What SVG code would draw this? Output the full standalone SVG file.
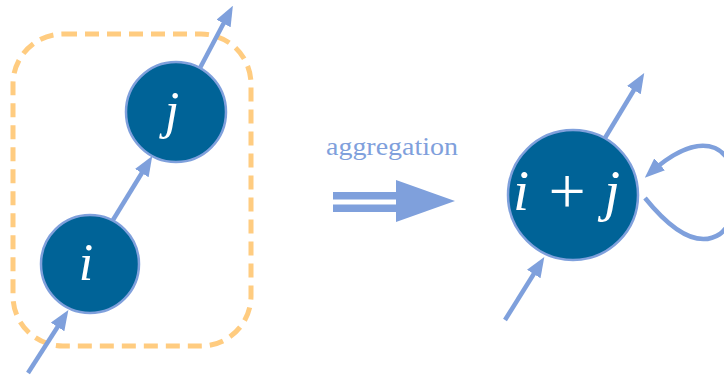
<svg xmlns="http://www.w3.org/2000/svg" width="724" height="377" viewBox="0 0 724 377">
<style>
.edge{fill:none;stroke:#7FA0DC;stroke-width:4.5;marker-end:url(#ah)}
.node{fill:#006397;stroke:#7FA0DC;stroke-width:2.5}
.lbl{fill:#ffffff;font-family:"Liberation Serif","DejaVu Serif",serif;text-anchor:middle}
.it{font-style:italic}
</style>
<defs>
<marker id="ah" markerUnits="userSpaceOnUse" viewBox="0 0 20 16" markerWidth="20" markerHeight="16" refX="13" refY="8" orient="auto">
<path d="M0,0 L20,8 L0,16 z" fill="#7FA0DC"/>
</marker>
</defs>
<rect id="group" x="13" y="34" width="238" height="312" rx="50" fill="none" stroke="#FFCC80" stroke-width="5" stroke-dasharray="14 8"/>
<g id="connectors">
<path class="edge" d="M28,373 L64.6,316"/>
<path class="edge" d="M113,220 L148.6,162"/>
<path class="edge" d="M200,68 L229.6,12"/>
<path class="edge" d="M505,320 L540.6,263"/>
<path class="edge" d="M605,138 L640.6,79"/>
<path class="edge" d="M645,198 C 675,235 700,247 720,234 C 745,214 742,160 715,148 C 695,140 670,155 650,173"/>
</g>
<g id="node-i">
<circle class="node" cx="90" cy="264" r="49"/>
<text class="lbl it" x="86" y="280" font-size="52">i</text>
</g>
<g id="node-j">
<circle class="node" cx="176" cy="112" r="50"/>
<text class="lbl it" x="172" y="128" font-size="52">j</text>
</g>
<g id="aggregation">
<text x="392" y="155" font-size="25" fill="#7FA0DC" font-family="'Liberation Serif','DejaVu Serif',serif" text-anchor="middle" textLength="132" lengthAdjust="spacingAndGlyphs">aggregation</text>
<rect x="333" y="192" width="66" height="7.5" fill="#7FA0DC"/>
<rect x="333" y="204.5" width="66" height="7.5" fill="#7FA0DC"/>
<path d="M396,180 L455,201 L396,222 z" fill="#7FA0DC"/>
</g>
<g id="node-ij">
<circle class="node" cx="573" cy="195" r="65"/>
<text class="lbl it" x="521" y="210" font-size="58">i</text>
<text class="lbl" x="567" y="213" font-size="66">+</text>
<text class="lbl it" x="612" y="210" font-size="58">j</text>
</g>
</svg>
